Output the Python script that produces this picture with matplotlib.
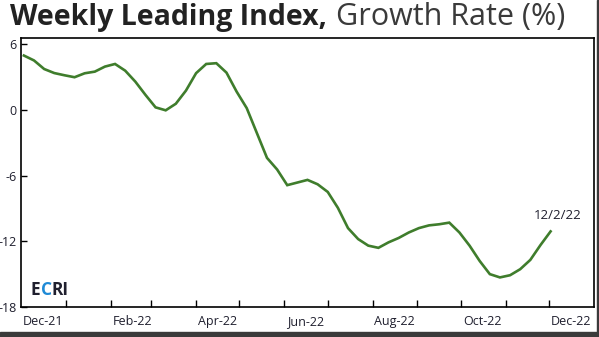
import pandas as pd
import matplotlib.pyplot as plt
from matplotlib.patches import Rectangle
from matplotlib.font_manager import FontProperties

# weekly WLI growth rate, Dec 3 2021 .. Dec 2 2022
dates = pd.date_range("2021-12-03", "2022-12-02", freq="7D")
growth = [
    4.95, 4.5, 3.72, 3.35, 3.15, 2.97, 3.33, 3.48, 3.94, 4.18,
    3.57, 2.57, 1.36, 0.22, -0.05, 0.55, 1.75, 3.34, 4.18, 4.25,
    3.39, 1.66, 0.15, -2.12, -4.39, -5.45, -6.88, -6.64, -6.4, -6.8,
    -7.5, -8.95, -10.8, -11.8, -12.4, -12.6, -12.1, -11.7, -11.2, -10.8,
    -10.55, -10.45, -10.3, -11.2, -12.4, -13.8, -15.0, -15.3, -15.1, -14.55,
    -13.7, -12.35, -11.1,
]
yticks = [6, 0, -6, -12, -18]
last_label = "12/2/22"

green = "#3f7d2c"
ink = "#1f1f2e"

fig = plt.figure(figsize=(5.99, 3.37), dpi=100)
ax = fig.add_axes([21 / 599, 1 - 307 / 337, 573 / 599, 269 / 337])

ax.plot(dates, growth, color=green, lw=1.9, solid_joinstyle="miter")

ax.set_xlim(pd.Timestamp("2021-12-01"), pd.Timestamp("2023-01-01"))
ax.set_ylim(-18, 6.55)
ax.set_yticks(yticks)
ax.set_yticklabels([str(v) for v in yticks])

# month ticks at month starts, labels mid-month every other month
ax.xaxis.set_major_formatter(plt.NullFormatter())
ax.xaxis.set_ticks([pd.Timestamp(f"2022-{m:02d}-01") for m in range(1, 13)])
mid = pd.date_range("2021-12-01", "2022-12-01", freq="2MS") + pd.Timedelta(days=15)
ax.set_xticks(mid, minor=True)
ax.set_xticklabels([d.strftime("%b-%y") for d in mid], minor=True)

ax.tick_params(axis="x", which="major", direction="in", length=5, width=1, color="black")
ax.tick_params(axis="x", which="minor", length=0, pad=6, labelsize=9, labelcolor=ink)
ax.tick_params(axis="y", direction="in", length=4, width=1, pad=3, labelsize=9, labelcolor=ink)
for lab in ax.get_xticklabels(minor=True) + ax.get_yticklabels():
    lab.set_family("Open Sans")

for s in ax.spines.values():
    s.set_linewidth(1.2)
    s.set_color("black")

ax.annotate(last_label, (dates[-1], growth[-1]), xytext=(5, 7), textcoords="offset points",
            ha="center", va="bottom", fontsize=9.5, color=ink, family="Open Sans")

# ECRI logo, pieces placed by measured string widths
fig.canvas.draw()
rend = fig.canvas.get_renderer()
fp = FontProperties(family="Open Sans", weight="bold", size=12.5)
def wpx(s):
    return rend.get_text_width_height_descent(s, fp, ismath=False)[0]

ax_w = ax.get_window_extent().width
x0 = 10 / 573
for part, prefix, col in [("E", "", ink), ("C", "E", "#1f8ad6"), ("RI", "EC", ink)]:
    off = (wpx(prefix + part) - wpx(part)) / ax_w if prefix else 0
    ax.text(x0 + off, 0.065, part, transform=ax.transAxes, fontproperties=fp, color=col,
            va="center", ha="left")

# title
t1 = fig.text(10 / 599, 1 - 17 / 337, "Weekly Leading Index,", fontsize=20.5, fontweight="bold",
              color="#222222", family="Open Sans", va="center", ha="left")
fig.canvas.draw()
bb = t1.get_window_extent().transformed(fig.transFigure.inverted())
fig.text(bb.x1 + 9 / 599, 1 - 17 / 337, "Growth Rate (%)", fontsize=22,
         color="#3a3a3a", family="Open Sans", va="center", ha="left")

# dark frame strips at bottom and right of the screenshot
fig.patches.append(Rectangle((0, 0), 1, 5 / 337, transform=fig.transFigure, color="#3a3a3a", zorder=0))
fig.patches.append(Rectangle((597 / 599, 0), 2 / 599, 1, transform=fig.transFigure, color="#3a3a3a", zorder=0))

fig.savefig("out.png", dpi=100)
